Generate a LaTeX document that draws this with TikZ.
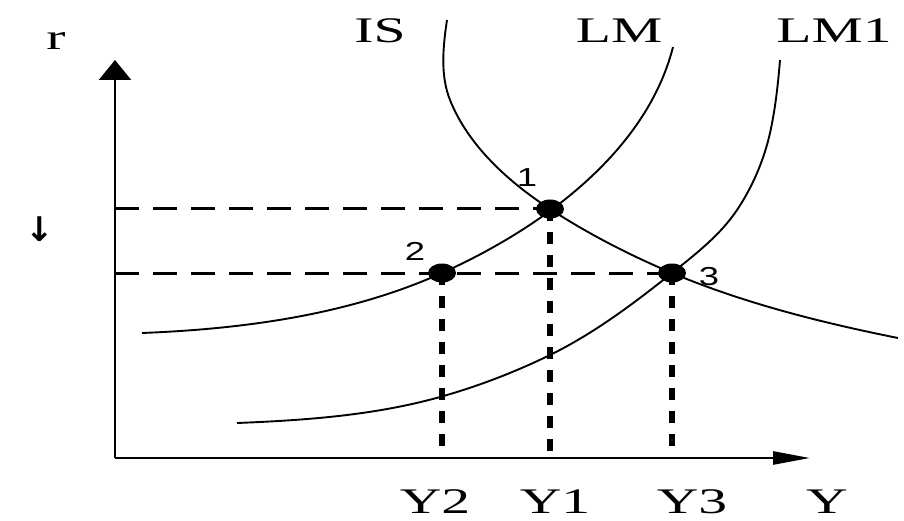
\documentclass[tikz,border=0pt]{standalone}
\usepackage{fontspec}
\usepackage{graphicx}
\setmainfont{Liberation Serif}
\newfontfamily\digitfont{Liberation Sans}
\newfontfamily\arrowfont{DejaVu Sans}
\usetikzlibrary{arrows.meta,shapes.geometric}
\tikzset{
  axisline/.style={line width=2.6pt},
  curve/.style={line width=1.9pt, line join=round},
  hdash/.style={line width=3pt, dash pattern=on 24pt off 14pt},
  vdash/.style={line width=5.5pt, dash pattern=on 12pt off 11pt},
  dot/.style={ellipse, fill=black, minimum width=28pt, minimum height=19pt, inner sep=0pt},
  lbl/.style={anchor=base, inner sep=0pt, font=\fontsize{36}{38}\selectfont},
  num/.style={anchor=base, inner sep=0pt, font=\digitfont\fontsize{26}{28}\selectfont},
}
\begin{document}
\begin{tikzpicture}[x=1pt,y=-1pt]
\useasboundingbox (0,0) rectangle (904,521);
% axes
\coordinate (O) at (115,458);
\coordinate (rtip) at (115,60);
\coordinate (ytip) at (810,458);
\draw[axisline,-{Triangle[length=20pt,width=32pt]}] (O) -- (rtip);
\draw[axisline,-{Triangle[length=37pt,width=13pt]}] (O) -- (ytip);
% IS curve
\draw[curve] (447,20) .. controls (443,46.4) and (440.1,75.2) .. (450,100)
  .. controls (468.3,145.8) and (508.7,182.1) .. (550,209)
  .. controls (588.5,234) and (629.7,255.2) .. (672,273)
  .. controls (744.3,303.3) and (821.1,322.6) .. (898,338);
% LM curve
\draw[curve] (142,333) .. controls (244,329) and (349,314.8) .. (442,273)
  .. controls (540.2,228.8) and (646,153) .. (673,47);
% LM1 curve
\draw[curve] (237,423) .. controls (305.2,420.3) and (374.3,415.4) .. (440,397)
  .. controls (477.8,386.4) and (514.8,372.2) .. (550,355)
  .. controls (594,333.4) and (633.7,303.6) .. (672,273)
  .. controls (695.6,254.1) and (720.2,235.1) .. (737,210)
  .. controls (752.5,186.8) and (763.9,160.2) .. (770,133)
  .. controls (775.3,109) and (778,84.5) .. (780,60);
% points
\node[dot] (p1) at (550,209) {};
\node[dot] (p2) at (442,273) {};
\node[dot] (p3) at (672,273) {};
\coordinate (a1) at (115,209);
\coordinate (a2) at (115,273);
\coordinate (b1) at (550,458);
\coordinate (b2) at (442,458);
\coordinate (b3) at (672,458);
\draw[hdash] (a1) -- (p1.center);
\draw[hdash] (a2) -- (p3.center);
\draw[vdash] (p1.center) -- (b1);
\draw[vdash] (p2.center) -- (b2);
\draw[vdash] (p3.center) -- (b3);
% labels
\node[lbl] (lr) at (56,50) {\scalebox{1.6}[1]{r}};
\node[lbl] (lis) at (380,43) {\scalebox{1.6}[1]{IS}};
\node[lbl] (llm) at (619,43) {\scalebox{1.6}[1]{LM}};
\node[lbl] (llm1) at (834,43) {\scalebox{1.6}[1]{LM1}};
\node[lbl] (ly2) at (435,513) {\scalebox{1.6}[1]{Y2}};
\node[lbl] (ly1) at (555,513) {\scalebox{1.6}[1]{Y1}};
\node[lbl] (ly3) at (692,513) {\scalebox{1.6}[1]{Y3}};
\node[lbl] (ly) at (827,513) {\scalebox{1.6}[1]{Y}};
\node[num] (n1) at (527,187) {\scalebox{1.4}[1]{1}};
\node[num] (n2) at (415,260) {\scalebox{1.4}[1]{2}};
\node[num] (n3) at (709,285) {\scalebox{1.4}[1]{3}};
\node[inner sep=0pt, font=\arrowfont\bfseries\fontsize{34}{36}\selectfont] (down) at (40,229) {↓};
\end{tikzpicture}
\end{document}
